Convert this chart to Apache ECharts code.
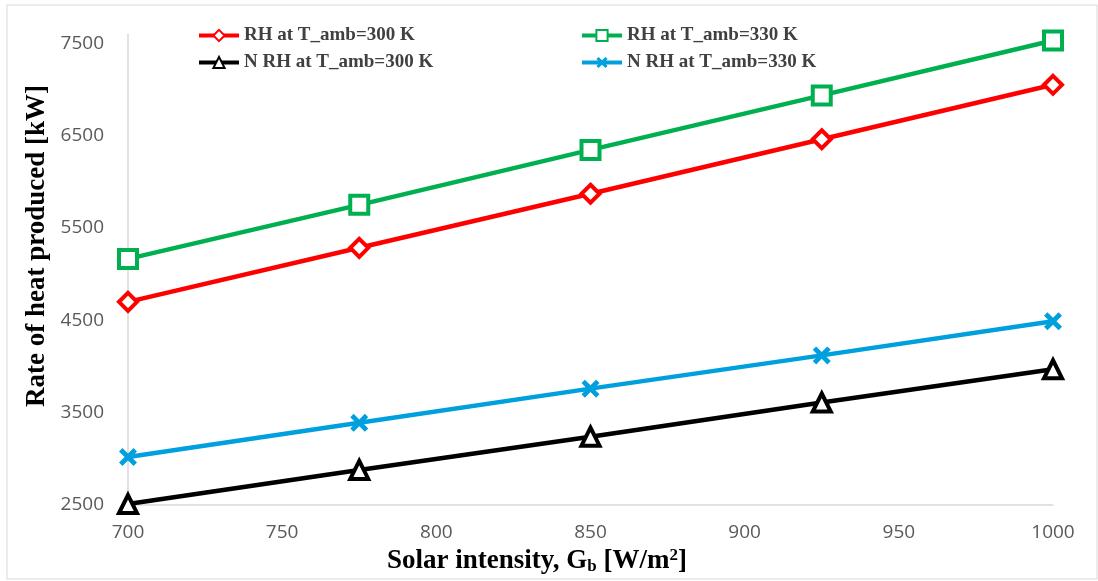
<!DOCTYPE html>
<html>
<head>
<meta charset="utf-8">
<script src="https://cdn.jsdelivr.net/npm/echarts@6/dist/echarts.min.js"></script>
<style>html,body{margin:0;padding:0;background:#fff}#c{width:1098px;height:581px}</style>
</head>
<body>
<div id="c"></div>
<script>
const solarIntensity = [700, 775, 850, 925, 1000];
const rh300 = [4700, 5285, 5870, 6460, 7050];
const rh330 = [5165, 5750, 6345, 6935, 7530];
const nrh300 = [2510, 2880, 3240, 3610, 3970];
const nrh330 = [3020, 3390, 3760, 4120, 4490];
const seriesNames = ['RH at T_amb=300 K', 'RH at T_amb=330 K', 'N RH at T_amb=300 K', 'N RH at T_amb=330 K'];

const pairs = arr => solarIntensity.map((x, i) => [x, arr[i]]);
const xPath = 'path://M0,1.9 L1.9,0 L5,3.1 L8.1,0 L10,1.9 L6.9,5 L10,8.1 L8.1,10 L5,6.9 L1.9,10 L0,8.1 L3.1,5 Z';

const chart = echarts.init(document.getElementById('c'));
const serif = 'Liberation Serif, Times New Roman, serif';
const mk = (name, data, color, symbol, size, hollow) => ({
  name, type: 'line', data: pairs(data),
  symbol, symbolSize: size,
  lineStyle: { color, width: 4.5 },
  itemStyle: hollow ? { color: '#fff', borderColor: color, borderWidth: 4 } : { color, borderWidth: 0 },
  z: 3
});
const legendBase = {
  orient: 'vertical', top: 21, itemWidth: 40, itemHeight: 14, itemGap: 8,
  lineStyle: { width: 4 },
  textStyle: { fontFamily: serif, fontWeight: 'bold', fontSize: 19, color: '#404040', lineHeight: 19 }
};
chart.setOption({
  backgroundColor: '#fff',
  animation: false,
  grid: { left: 128, right: 45, top: 34, bottom: 76 },
  xAxis: {
    type: 'value', min: 700, max: 1000, interval: 50,
    axisLine: { lineStyle: { color: '#D9D9D9', width: 1.5 } },
    axisTick: { show: false }, splitLine: { show: false },
    axisLabel: { color: '#595959', fontSize: 19, fontFamily: 'Open Sans, sans-serif', margin: 18, formatter: v => String(v) }
  },
  yAxis: {
    type: 'value', min: 2500, max: 7600, interval: 1000,
    axisLine: { show: true, lineStyle: { color: '#D9D9D9', width: 1.5 } },
    axisTick: { show: false }, splitLine: { show: false },
    axisLabel: { color: '#595959', fontSize: 19, fontFamily: 'Open Sans, sans-serif', margin: 24,
      formatter: v => ((v - 2500) % 1000 === 0 ? String(v) : '') }
  },
  legend: [
    Object.assign({ data: [seriesNames[0], seriesNames[2]], left: 192 }, legendBase),
    Object.assign({ data: [seriesNames[1], seriesNames[3]], left: 575 }, legendBase)
  ],
  graphic: [
    { type: 'rect', shape: { x: 7, y: 5, width: 1090, height: 574 }, style: { fill: 'none', stroke: '#D9D9D9', lineWidth: 1 }, silent: true },
    { type: 'text', x: 37, y: 246, rotation: Math.PI / 2,
      style: { text: 'Rate of heat produced [kW]', font: 'bold 27px ' + serif, fill: '#000', align: 'center', verticalAlign: 'middle' } },
    { type: 'text', x: 537, y: 561,
      style: { text: 'Solar intensity, G{sub|b} [W/m{sup|2}]', font: 'bold 27px ' + serif, fill: '#000', align: 'center', verticalAlign: 'middle',
        rich: {
          sub: { font: 'bold 17px ' + serif, fill: '#000', padding: [12, 0, 0, 0] },
          sup: { font: 'bold 17px ' + serif, fill: '#000', padding: [0, 0, 10, 0] }
        } } }
  ],
  series: [
    mk(seriesNames[0], rh300, '#FF0000', 'diamond', 18, true),
    mk(seriesNames[1], rh330, '#00B050', 'rect', 18, true),
    mk(seriesNames[2], nrh300, '#000000', 'triangle', 18, true),
    mk(seriesNames[3], nrh330, '#00A0DE', xPath, 18, false)
  ]
});
</script>
</body>
</html>
